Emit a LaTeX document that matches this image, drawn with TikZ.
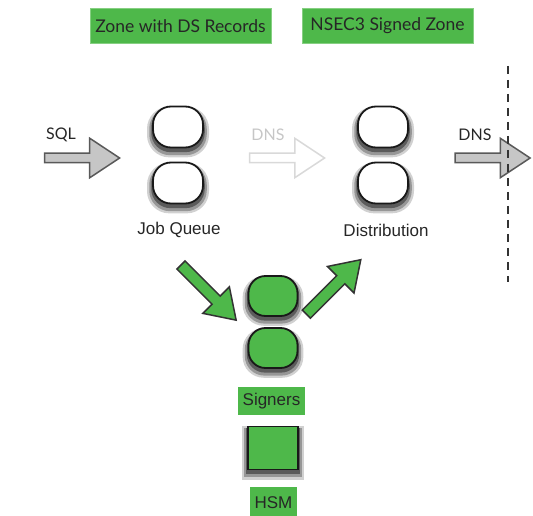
\documentclass[tikz,border=0pt]{standalone}
\usepackage{fontspec}
\setmainfont{Liberation Sans}
\newfontfamily\gillfont{Lato}
\usetikzlibrary{shapes.arrows,shadows}

\tikzset{
  softshadow/.style={
    drop shadow={shadow xshift=0pt, shadow yshift=-4pt, shadow scale=1.24, opacity=.18, fill=black},
    drop shadow={shadow xshift=0pt, shadow yshift=-4pt, shadow scale=1.15, opacity=.28, fill=black},
    drop shadow={shadow xshift=0pt, shadow yshift=-3pt, shadow scale=1.07, opacity=.40, fill=black}},
  oval/.style={draw=black!90, line width=1.8pt, fill=white, rounded corners=18pt,
    minimum width=50pt, minimum height=41pt, inner sep=0pt, softshadow},
  greenoval/.style={oval, fill=signgreen, rounded corners=17pt, minimum width=49pt, minimum height=40pt},
  greenbox/.style={fill=signgreen, inner sep=0pt, text=black!85},
  blockarrow/.style={single arrow, inner sep=0pt, text height=4pt, text depth=4pt,
    single arrow head extend=15pt, single arrow tip angle=67, minimum height=75pt,
    line width=1.5pt},
  arrowlabel/.style={font=\gillfont\fontsize{16}{18}\selectfont, text=black!85},
}

\begin{document}
\begin{tikzpicture}[x=1pt,y=1pt]
        % Define colors
        \definecolor{signgreen}{RGB}{78, 184, 74}   % Green
        \definecolor{headgreen}{RGB}{82, 186, 76}   % Header green

        \useasboundingbox (0,0) rectangle (533,515);

        % Headers
        \node[greenbox, minimum width=181pt, minimum height=35pt, draw=headgreen!70!white,
              font=\gillfont\fontsize{17.5}{20}\selectfont] (zoneds) at (180.5,489) {Zone with DS Records};
        \node[greenbox, minimum width=171pt, minimum height=35pt, draw=headgreen!70!white,
              font=\gillfont\fontsize{17.5}{20}\selectfont] (nsecz) at (387.5,489) {NSEC3 Signed Zone};

        % Job Queue
        \node[oval] (jqtop) at (178,388) {};
        \node[oval] (jqbot) at (178,332) {};
        \node[font=\fontsize{17}{20}\selectfont, text=black!85] (jqlabel) at (179,285) {Job Queue};

        % Distribution
        \node[oval] (disttop) at (383,388) {};
        \node[oval] (distbot) at (383,332) {};
        \node[font=\fontsize{17}{20}\selectfont, text=black!85] (distlabel) at (386,285) {Distribution};

        % Signers
        \node[greenoval] (sigtop) at (273,219) {};
        \node[greenoval] (sigbot) at (273,167) {};
        \node[greenbox, minimum width=67pt, minimum height=28pt,
              font=\fontsize{17}{20}\selectfont] (siglabel) at (271.5,114) {Signers};

        % HSM
        \node[greenoval, rounded corners=0pt, minimum width=50pt, minimum height=43pt] (hsm) at (273,67) {};
        \node[greenbox, minimum width=47pt, minimum height=30pt, anchor=north,
              font=\fontsize{17}{20}\selectfont] (hsmlabel) at (273.5,28) {HSM};

        % Block arrows
        \node[blockarrow, fill=gray!45, draw=black!65] (sqlarrow) at (78.5,357) {};
        \node[arrowlabel] (sqllabel) at (61,380) {SQL};

        \node[blockarrow, fill=white, draw=gray!30] (dnsin) at (283.5,357) {};
        \node[arrowlabel, text=gray!45] (dnsinlabel) at (268,380) {DNS};

        \node[blockarrow, fill=gray!45, draw=black!65] (dnsout) at (489,357) {};
        \node[arrowlabel] (dnsoutlabel) at (475,380) {DNS};

        % Green arrows to and from the signers
        \node[blockarrow, fill=signgreen, draw=black!80, rotate=-45, minimum height=78pt,
              single arrow head extend=13pt, text height=5pt, text depth=5pt] (tosign) at (205.5,225.5) {};
        \node[blockarrow, fill=signgreen, draw=black!80, rotate=45, minimum height=77pt,
              single arrow head extend=13pt, text height=5pt, text depth=5pt] (fromsign) at (330.5,225) {};

        % Dashed border
        \coordinate (cuttop) at (508,449);
        \coordinate (cutbot) at (508,233);
        \draw[black!80, line width=2pt, dash pattern=on 8pt off 6pt] (cuttop) -- (cutbot);

    \end{tikzpicture}
\end{document}
